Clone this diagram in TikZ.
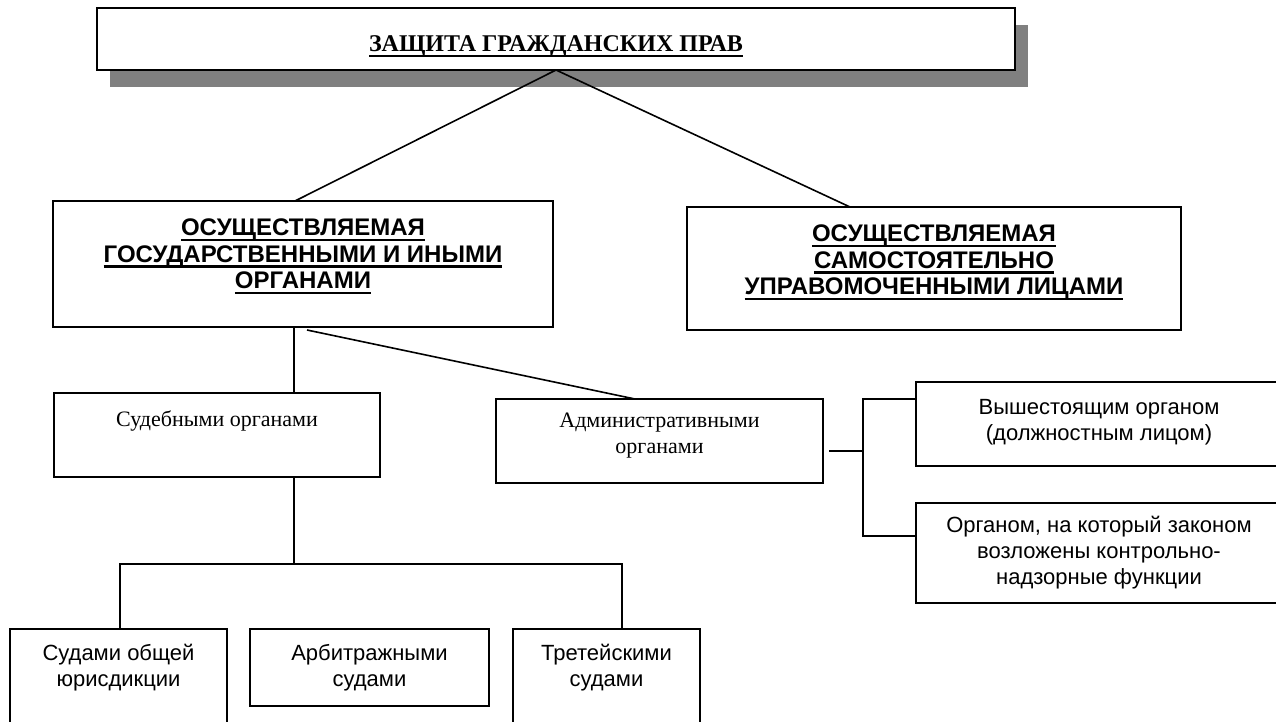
\documentclass[tikz,border=0pt]{standalone}
\usepackage{fontspec}
\setmainfont{Liberation Serif}
\setsansfont{Liberation Sans}
\usetikzlibrary{calc}
\definecolor{shadowgray}{HTML}{808080}
\newcommand{\ulbox}[1]{\setbox0\hbox{#1}\rlap{\rule[-5.5pt]{\wd0}{2.6pt}}\box0}
\tikzset{
  frame/.style={draw=black, line width=1.6pt, fill=white, anchor=north west, inner sep=0pt, outer sep=0pt},
  conn/.style={draw=black, line width=1.6pt},
  headtxt/.style={font=\sffamily\bfseries\fontsize{24}{26.5}\selectfont, align=center, anchor=north, inner sep=0pt},
  sanstxt/.style={font=\sffamily\fontsize{22}{26}\selectfont, align=center, anchor=north, inner sep=0pt},
  seriftxt/.style={font=\rmfamily\fontsize{22}{26}\selectfont, align=center, anchor=north, inner sep=0pt},
}
\begin{document}
\begin{tikzpicture}[x=1pt, y=-1pt]
\useasboundingbox (0,0) rectangle (1276,722);

% top box with shadow
\fill[shadowgray] (110,25) rectangle (1028,87);
\node[frame, minimum width=918pt, minimum height=62pt] (zgp) at (97,8) {};
\node[font=\rmfamily\bfseries\fontsize{24}{28}\selectfont, anchor=base, inner sep=0pt] (zgpT) at ([yshift=-44pt]zgp.north) {\ulbox{ЗАЩИТА ГРАЖДАНСКИХ ПРАВ}};

% second level
\node[frame, minimum width=500pt, minimum height=126pt] (gos) at (53,201) {};
\node[headtxt] (gosT) at ([yshift=-18pt]gos.north) {\ulbox{ОСУЩЕСТВЛЯЕМАЯ}\\\ulbox{ГОСУДАРСТВЕННЫМИ И ИНЫМИ}\\\ulbox{ОРГАНАМИ}};
\node[frame, minimum width=494pt, minimum height=123pt] (samo) at (687,207) {};
\node[headtxt] (samoT) at ([yshift=-18pt]samo.north) {\ulbox{ОСУЩЕСТВЛЯЕМАЯ}\\\ulbox{САМОСТОЯТЕЛЬНО}\\\ulbox{УПРАВОМОЧЕННЫМИ ЛИЦАМИ}};

% third level
\node[frame, minimum width=326pt, minimum height=84pt] (sud) at (54,393) {};
\node[seriftxt] (sudT) at ([yshift=-18pt]sud.north) {Судебными органами};
\node[frame, minimum width=327pt, minimum height=84pt] (adm) at (496,399) {};
\node[seriftxt] (admT) at ([yshift=-14pt]adm.north) {Административными\\органами};

% administrative branches
\node[frame, minimum width=366pt, minimum height=84pt] (vys) at (916,382) {};
\node[sanstxt] (vysT) at ([yshift=-17pt]vys.north) {Вышестоящим органом\\(должностным лицом)};
\node[frame, minimum width=366pt, minimum height=100pt] (org) at (916,503) {};
\node[sanstxt] (orgT) at ([yshift=-13pt]org.north) {Органом, на который законом\\возложены контрольно-\\надзорные функции};

% courts
\node[frame, minimum width=217pt, minimum height=106pt] (sob) at (10,629) {};
\node[sanstxt] (sobT) at ([yshift=-15pt]sob.north) {Судами общей\\юрисдикции};
\node[frame, minimum width=239pt, minimum height=77pt] (arb) at (250,629) {};
\node[sanstxt] (arbT) at ([yshift=-15pt]arb.north) {Арбитражными\\судами};
\node[frame, minimum width=187pt, minimum height=106pt] (tre) at (513,629) {};
\node[sanstxt] (treT) at ([yshift=-15pt]tre.north) {Третейскими\\судами};

% connectors
\coordinate (gsd) at ($(gos.south west)+(241,0)$);
\coordinate (bus) at ($(sud.south west)+(240,87)$);
\coordinate (abus) at ($(adm.north east)+(40,52)$);
\draw[conn] (zgp.south) -- ($(gos.north west)+(242,0)$);
\draw[conn] (zgp.south) -- ($(samo.north west)+(163,0)$);
\draw[conn] (gsd) -- (gsd |- sud.north);
\draw[conn] ($(gos.south west)+(254,3)$) -- ($(adm.north west)+(139,0)$);
\draw[conn] (gsd |- sud.south) -- (bus);
\draw[conn] ($(sob.north west)+(110,0)$) |- (bus) -| ($(tre.north west)+(109,0)$);
\draw[conn] ($(arb.north west)+(110,0)$) -- ($(arb.north west)+(110,0)$ |- bus);
\draw[conn] ($(adm.north east)+(6,52)$) -- (abus);
\draw[conn] (vys.west |- 0,399) -| (abus) |- (org.west |- 0,536);
\end{tikzpicture}
\end{document}
